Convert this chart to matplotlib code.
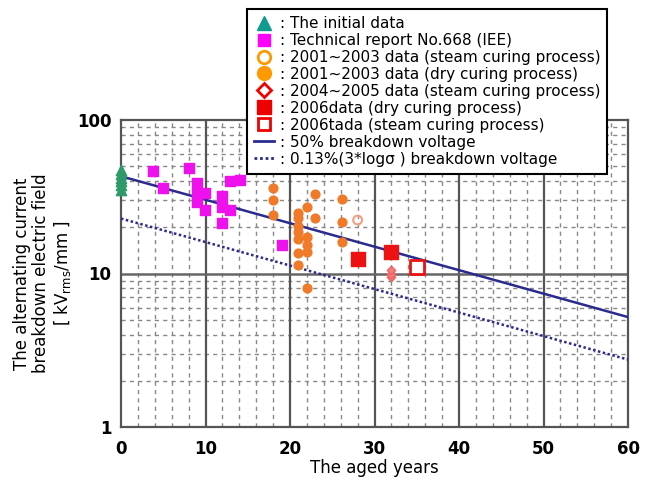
import matplotlib
matplotlib.use("Agg")
import matplotlib.pyplot as plt
from matplotlib.lines import Line2D
import numpy as np

# ---- data ----
initial_x = [0, 0, 0, 0, 0, 0]
initial_y = [35, 37.5, 40, 42, 44.5, 47]

iee_x = [3.8, 8.0, 5.0, 9.0, 9.0, 9.9, 9.0, 9.9, 11.9, 11.9, 11.9, 12.9, 12.9, 14.1, 19.0]
iee_y = [46.4, 48.8, 36.0, 38.9, 33.4, 33.4, 29.4, 25.9, 31.8, 27.3, 21.2, 25.9, 39.9, 40.9, 15.3]

dry0103_x = [18, 18, 18, 21, 21, 21, 21, 21, 21, 21, 22, 22, 22, 22, 22, 23, 23, 26.1, 26.1, 26.1]
dry0103_y = [36.3, 30.0, 24.2, 24.7, 22.9, 20.5, 18.7, 16.9, 13.5, 11.3, 27.3, 17.3, 15.3, 13.8, 8.1, 33.1, 22.9, 30.5, 21.8, 16.1]

steam0103_x = [28.0]
steam0103_y = [22.3]

steam0405_x = [32.0, 32.0, 32.0]
steam0405_y = [9.5, 10.0, 10.6]

dry06_x = [28.0, 31.9]
dry06_y = [12.5, 13.8]

steam06_x = [35.0]
steam06_y = [11.1]

line_x = [0, 60]
line50_y = [43.0, 5.2]
line013_y = [22.8, 2.75]

x_ticks = [0, 10, 20, 30, 40, 50, 60]
y_ticks = [1, 10, 100]
y_ticklabels = ["1", "10", "100"]

legend_labels = [
    ": The initial data",
    ": Technical report No.668 (IEE)",
    ": 2001~2003 data (steam curing process)",
    ": 2001~2003 data (dry curing process)",
    ": 2004~2005 data (steam curing process)",
    ": 2006data (dry curing process)",
    ": 2006tada (steam curing process)",
    ": 50% breakdown voltage",
    ": 0.13%(3*log\u03c3 ) breakdown voltage",
]

# ---- figure ----
fig = plt.figure(figsize=(6.55, 4.84), dpi=100)
ax = fig.add_axes([121 / 655, 1 - 427 / 484, (628 - 121) / 655, (427 - 120) / 484])
ax.set_yscale("log")
ax.set_xlim(0, 60)
ax.set_ylim(1, 100)

# grid
for xv in np.arange(2, 60, 2):
    if xv % 10 != 0:
        ax.axvline(xv, color="#888888", lw=1.0, ls=(0, (3, 3)), zorder=0)
for xv in [10, 20, 30, 40, 50]:
    ax.axvline(xv, color="#555555", lw=1.6, zorder=0.5)
for dec in [1, 10]:
    for m in range(2, 10):
        ax.axhline(dec * m, color="#888888", lw=1.0, ls=(0, (3, 3)), zorder=0)
ax.axhline(10, color="#666666", lw=1.8, zorder=0.5)

color_green = "#2e9a6a"
color_mag = "#ee11ee"
color_or = "#f07a28"
color_red = "#ee1111"
color_navy = "#2a2a8f"

ax.plot(line_x, line50_y, color=color_navy, lw=1.8, zorder=3)
ax.plot(line_x, line013_y, color=color_navy, lw=1.8, ls=(0, (1.0, 1.0)), zorder=3)

ax.scatter(initial_x, initial_y, marker="^", s=55, color=color_green, zorder=4, clip_on=False)
ax.scatter(iee_x, iee_y, marker="s", s=50, color=color_mag, zorder=4)
ax.scatter(dry0103_x, dry0103_y, marker="o", s=40, color=color_or, zorder=4)
ax.scatter(steam0103_x, steam0103_y, marker="o", s=40, facecolor="none", edgecolor="#f0a080", lw=1.5, zorder=4)
ax.scatter(steam0405_x, steam0405_y, marker="D", s=18, facecolor="#f08080", edgecolor="#f06060", lw=1, zorder=4)
ax.scatter(dry06_x, dry06_y, marker="s", s=110, color=color_red, zorder=5)
ax.scatter(steam06_x, steam06_y, marker="s", s=90, facecolor="white", edgecolor=color_red, lw=2, zorder=5)

ax.set_xticks(x_ticks)
ax.set_xticklabels([str(v) for v in x_ticks], fontsize=12, fontweight="bold")
ax.set_yticks(y_ticks)
ax.set_yticklabels(y_ticklabels, fontsize=12, fontweight="bold")
ax.yaxis.set_minor_locator(matplotlib.ticker.NullLocator())
ax.tick_params(axis="x", length=0, pad=9)
ax.tick_params(axis="y", length=0, pad=7)
for s in ax.spines.values():
    s.set_color("#555555")
    s.set_linewidth(1.6)

ax.set_xlabel("The aged years", fontsize=12, labelpad=1)
ax.set_ylabel("The alternating current\nbreakdown electric field\n[ kV$_{\\mathregular{rms}}$/mm ]",
              fontsize=12, linespacing=1.1, labelpad=3)

handles = [
    Line2D([], [], marker="^", ls="none", color="#109a90", markersize=10),
    Line2D([], [], marker="s", ls="none", color="#ff00ff", markersize=8),
    Line2D([], [], marker="o", ls="none", markerfacecolor="white", markeredgecolor="#ff9900", markeredgewidth=2, markersize=9),
    Line2D([], [], marker="o", ls="none", color="#ff9900", markersize=10),
    Line2D([], [], marker="D", ls="none", markerfacecolor="white", markeredgecolor="#ee0000", markeredgewidth=2, markersize=7),
    Line2D([], [], marker="s", ls="none", color="#ee0000", markersize=10),
    Line2D([], [], marker="s", ls="none", markerfacecolor="white", markeredgecolor="#ee0000", markeredgewidth=2, markersize=8),
    Line2D([], [], color=color_navy, lw=2),
    Line2D([], [], color=color_navy, lw=2, ls=(0, (1, 1))),
]
leg = fig.legend(handles, legend_labels, loc="upper left", bbox_to_anchor=(247 / 655, 1 - 9 / 484),
                 fontsize=11, frameon=True, fancybox=False, framealpha=1, edgecolor="black",
                 handlelength=1.3, handletextpad=0.4, labelspacing=0.13, borderpad=0.45,
                 borderaxespad=0)
leg.get_frame().set_linewidth(1.5)
leg.set_zorder(10)

fig.savefig("out.png", dpi=100)
